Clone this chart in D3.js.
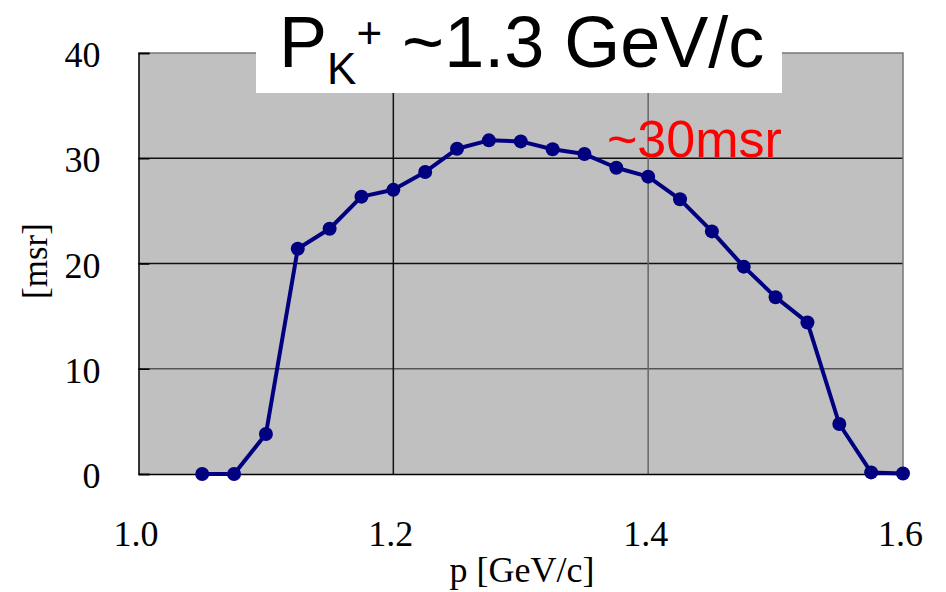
<!DOCTYPE html>
<html>
<head>
<meta charset="utf-8">
<script src="https://cdn.jsdelivr.net/npm/d3@7"></script>
<style>
  body { margin: 0; background: #fff; }
  svg { display: block; }
</style>
</head>
<body>
<svg></svg>
<script>
var width = 946;
var height = 592;

// momentum [GeV/c] and acceptance [msr]
var momentum = [1.05, 1.075, 1.1, 1.125, 1.15, 1.175, 1.2, 1.225, 1.25, 1.275, 1.3, 1.325,
                1.35, 1.375, 1.4, 1.425, 1.45, 1.475, 1.5, 1.525, 1.55, 1.575, 1.6];
var acceptance = [0, 0, 3.8, 21.4, 23.3, 26.35, 27.0, 28.7, 30.9, 31.7, 31.6, 30.85,
                  30.4, 29.1, 28.25, 26.1, 23.05, 19.7, 16.8, 14.4, 4.75, 0.15, 0.05];
var xTicks = [1.0, 1.2, 1.4, 1.6];
var yTicks = [0, 10, 20, 30, 40];

var points = momentum.map(function(p, i){ return {p: p, v: acceptance[i]}; });

var x = d3.scaleLinear().domain([1.0, 1.6]).range([138.5, 903]);
var y = d3.scaleLinear().domain([0, 40]).range([474, 53]);

var svg = d3.select("svg")
      .attr("width", width)
      .attr("height", height);

// plot background
svg.append("rect")
    .attr("x", x(1.0))
    .attr("y", y(40))
    .attr("width", x(1.6) - x(1.0))
    .attr("height", y(0) - y(40))
    .attr("fill", "#c0c0c0");

// grid
svg.selectAll(".hgrid")
    .data(yTicks.filter(function(d){ return d > 0 && d < 40; }))
    .enter()
    .append("line")
    .attr("x1", x(1.0)).attr("x2", x(1.6))
    .attr("y1", function(d){ return y(d); })
    .attr("y2", function(d){ return y(d); })
    .attr("stroke", function(d){ return d == 10 ? "#555" : "#111"; })
    .attr("stroke-width", 1.5);

svg.selectAll(".vgrid")
    .data(xTicks.filter(function(d){ return d > 1.0 && d < 1.6; }))
    .enter()
    .append("line")
    .attr("y1", y(0)).attr("y2", y(40))
    .attr("x1", function(d){ return x(d); })
    .attr("x2", function(d){ return x(d); })
    .attr("stroke", function(d){ return d > 1.3 ? "#666" : "#111"; })
    .attr("stroke-width", 1.5);

// top and right border
svg.append("path")
    .attr("d", "M" + x(1.0) + "," + y(40) + "H" + x(1.6) + "V" + y(0))
    .attr("fill", "none")
    .attr("stroke", "#777")
    .attr("stroke-width", 1.5);

// axes
var yAxis = d3.axisLeft(y)
    .tickValues(yTicks)
    .tickSize(-11)
    .tickPadding(38);
var gy = svg.append("g")
    .attr("transform", "translate(" + x(1.0) + ",0)")
    .call(yAxis);
gy.select(".domain").attr("stroke", "#000").attr("stroke-width", 1.5);
gy.selectAll(".tick line").attr("stroke", "#000").attr("stroke-width", 1.5);
gy.selectAll(".tick text")
    .attr("font-family", "'Liberation Serif', 'Times New Roman', serif")
    .attr("font-size", 36)
    .attr("fill", "#000")
    .attr("dy", "0.38em");

var xAxis = d3.axisBottom(x)
    .tickValues(xTicks)
    .tickSize(0)
    .tickPadding(72)
    .tickFormat(d3.format(".1f"));
var gx = svg.append("g")
    .attr("transform", "translate(0," + y(0) + ")")
    .call(xAxis);
gx.select(".domain").attr("stroke", "#000").attr("stroke-width", 1.5);
gx.selectAll(".tick text")
    .attr("font-family", "'Liberation Serif', 'Times New Roman', serif")
    .attr("font-size", 36)
    .attr("fill", "#000")
    .attr("dx", -3)
    .attr("dy", 0);

// axis titles
svg.append("text")
    .attr("x", 522)
    .attr("y", 582)
    .attr("text-anchor", "middle")
    .attr("font-family", "'Liberation Serif', 'Times New Roman', serif")
    .attr("font-size", 36)
    .text("p [GeV/c]");

svg.append("text")
    .attr("transform", "translate(47,261) rotate(-90)")
    .attr("text-anchor", "middle")
    .attr("font-family", "'Liberation Serif', 'Times New Roman', serif")
    .attr("font-size", 35)
    .text("[msr]");

// data
var line = d3.line()
    .x(function(d){ return x(d.p); })
    .y(function(d){ return y(d.v); });

svg.append("path")
    .datum(points)
    .attr("d", line)
    .attr("fill", "none")
    .attr("stroke", "#000080")
    .attr("stroke-width", 4)
    .attr("stroke-linejoin", "round");

svg.selectAll(".dot")
    .data(points)
    .enter()
    .append("circle")
    .attr("cx", function(d){ return x(d.p); })
    .attr("cy", function(d){ return y(d.v); })
    .attr("r", 7)
    .attr("fill", "#000080");

// annotation
svg.append("text")
    .attr("x", 607)
    .attr("y", 157)
    .attr("font-family", "'Liberation Sans', Arial, sans-serif")
    .attr("font-size", 52)
    .attr("fill", "#ff0000")
    .text("~30msr");

// title box
svg.append("rect")
    .attr("x", 256)
    .attr("y", 0)
    .attr("width", 526)
    .attr("height", 93)
    .attr("fill", "#fff");

var title = svg.append("text")
    .attr("x", 279)
    .attr("y", 67)
    .attr("font-family", "'Liberation Sans', Arial, sans-serif")
    .attr("font-size", 72)
    .attr("fill", "#000");
title.append("tspan").text("P");
title.append("tspan").attr("font-size", 44).attr("dy", 17).text("K");
title.append("tspan").attr("font-size", 44).attr("dy", -36).text("+");
title.append("tspan").attr("dy", 19).text(" ~1.3 GeV/c");
</script>
</body>
</html>
